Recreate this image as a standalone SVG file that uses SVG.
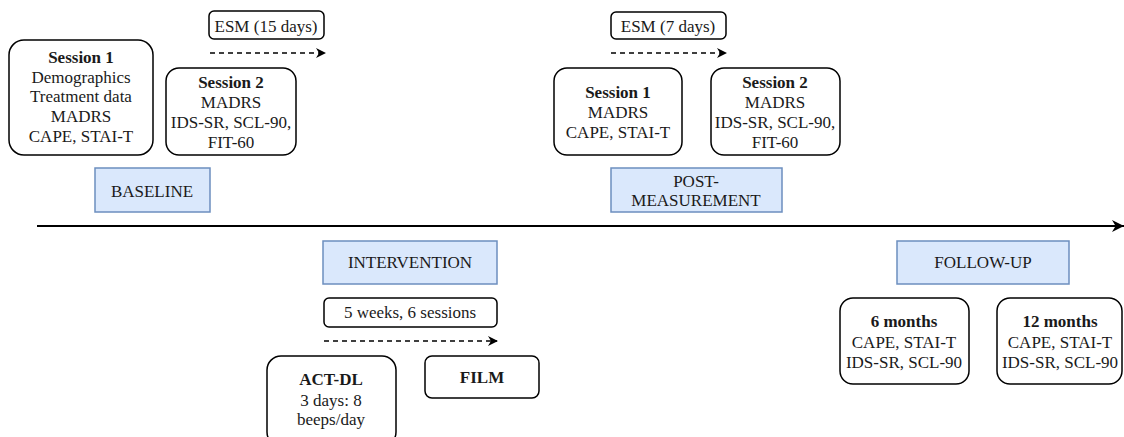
<svg xmlns="http://www.w3.org/2000/svg" width="1124" height="437" viewBox="0 0 1124 437">
<style>
text{font-family:'Liberation Serif','Times New Roman',Times,'DejaVu Serif',serif;font-size:17px;fill:#1a1a1a;text-anchor:middle}
.b{font-weight:bold}
.box{fill:#fff;stroke:#000;stroke-width:1.5}
.phase{fill:#dae8fc;stroke:#6c8ebf;stroke-width:1.5}
.dash{fill:none;stroke:#000;stroke-width:1.3;stroke-dasharray:5,4}
.axis{fill:none;stroke:#000;stroke-width:2}
</style>
<defs>
<marker id="ah" viewBox="0 0 10 10" refX="9" refY="5" markerWidth="10" markerHeight="10" markerUnits="userSpaceOnUse" orient="auto">
<path d="M0,0 L10,5 L0,10 L3,5 Z" fill="#000"/>
</marker>
<marker id="ah2" viewBox="0 0 10 10" refX="10" refY="5" markerWidth="12" markerHeight="12" markerUnits="userSpaceOnUse" orient="auto">
<path d="M0,0 L10,5 L0,10 L3,5 Z" fill="#000"/>
</marker>
</defs>
<g id="connectors">
<line class="axis" x1="37" y1="226" x2="1124" y2="226" marker-end="url(#ah2)"/>
<line class="dash" x1="210" y1="53" x2="325" y2="53" marker-end="url(#ah)"/>
<line class="dash" x1="611" y1="53" x2="726" y2="53" marker-end="url(#ah)"/>
<line class="dash" x1="324" y1="341" x2="497" y2="341" marker-end="url(#ah)"/>
</g>
<g id="baseline-session1">
<rect class="box" x="9" y="40" width="144" height="115" rx="15"/>
<text class="b" x="81" y="63">Session 1</text>
<text x="81" y="83">Demographics</text>
<text x="81" y="102">Treatment data</text>
<text x="81" y="122">MADRS</text>
<text x="81" y="142">CAPE, STAI-T</text>
</g>
<g id="esm15">
<rect class="box" x="209" y="11" width="115" height="28" rx="5"/>
<text x="266" y="32">ESM (15 days)</text>
</g>
<g id="baseline-session2">
<rect class="box" x="166" y="68" width="130" height="87" rx="13"/>
<text class="b" x="231" y="88">Session 2</text>
<text x="231" y="108">MADRS</text>
<text x="231" y="128">IDS-SR, SCL-90,</text>
<text x="231" y="148">FIT-60</text>
</g>
<g id="baseline">
<rect class="phase" x="95" y="168" width="115" height="44"/>
<text x="152" y="197">BASELINE</text>
</g>
<g id="esm7">
<rect class="box" x="611" y="12" width="115" height="27" rx="5"/>
<text x="668" y="32">ESM (7 days)</text>
</g>
<g id="post-session1">
<rect class="box" x="554" y="68" width="128" height="87" rx="13"/>
<text class="b" x="618" y="98">Session 1</text>
<text x="618" y="118">MADRS</text>
<text x="618" y="138">CAPE, STAI-T</text>
</g>
<g id="post-session2">
<rect class="box" x="711" y="68" width="129" height="87" rx="13"/>
<text class="b" x="775" y="88">Session 2</text>
<text x="775" y="108">MADRS</text>
<text x="775" y="128">IDS-SR, SCL-90,</text>
<text x="775" y="148">FIT-60</text>
</g>
<g id="post-measurement">
<rect class="phase" x="611" y="168" width="171" height="44"/>
<text x="696" y="187">POST-</text>
<text x="696" y="206">MEASUREMENT</text>
</g>
<g id="intervention">
<rect class="phase" x="323" y="241" width="174" height="43"/>
<text x="410" y="268">INTERVENTION</text>
</g>
<g id="weeks">
<rect class="box" x="324" y="298" width="173" height="29" rx="5"/>
<text x="410" y="318">5 weeks, 6 sessions</text>
</g>
<g id="act-dl">
<rect class="box" x="267" y="356" width="129" height="90" rx="14"/>
<text class="b" x="331" y="385">ACT-DL</text>
<text x="331" y="406">3 days: 8</text>
<text x="331" y="425">beeps/day</text>
</g>
<g id="film">
<rect class="box" x="425" y="356" width="114" height="42" rx="7"/>
<text class="b" x="482" y="383">FILM</text>
</g>
<g id="follow-up">
<rect class="phase" x="897" y="241" width="172" height="43"/>
<text x="983" y="268">FOLLOW-UP</text>
</g>
<g id="six-months">
<rect class="box" x="840" y="298" width="129" height="86" rx="13"/>
<text class="b" x="904" y="327">6 months</text>
<text x="904" y="348">CAPE, STAI-T</text>
<text x="904" y="368">IDS-SR, SCL-90</text>
</g>
<g id="twelve-months">
<rect class="box" x="997" y="298" width="125" height="86" rx="13"/>
<text class="b" x="1060" y="327">12 months</text>
<text x="1060" y="348">CAPE, STAI-T</text>
<text x="1060" y="368">IDS-SR, SCL-90</text>
</g>
</svg>
